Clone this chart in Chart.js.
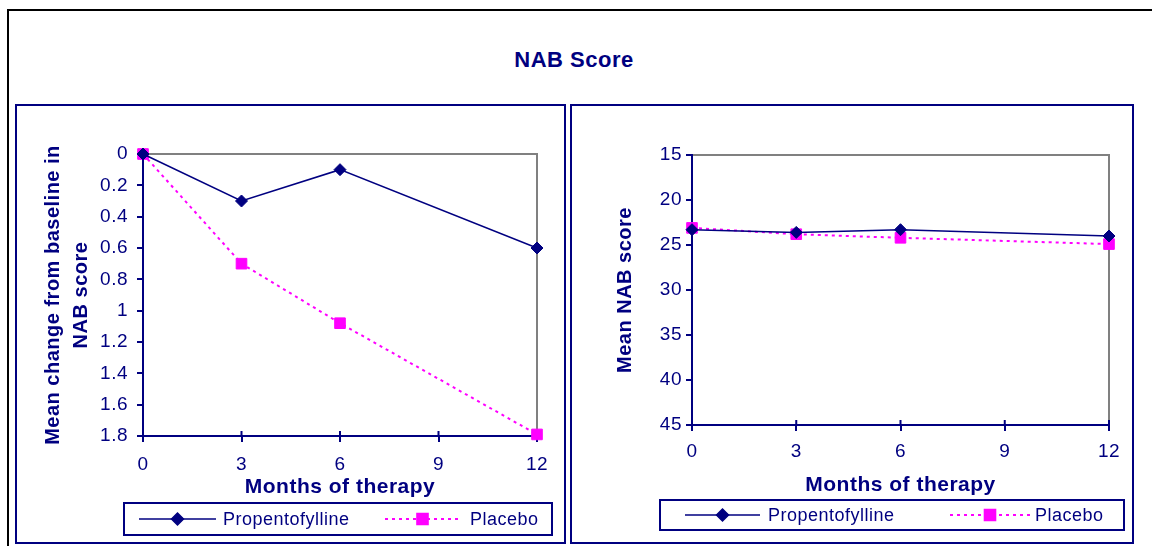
<!DOCTYPE html>
<html>
<head>
<meta charset="utf-8">
<title>NAB Score</title>
<script src="https://cdn.jsdelivr.net/npm/chart.js@4/dist/chart.umd.min.js"></script>
<style>
  html, body { margin: 0; padding: 0; background: #fff; }
  body { width: 1152px; height: 546px; position: relative; overflow: hidden; font-family: "Liberation Sans", Arial, sans-serif; }
  .outer { position: absolute; left: 7px; top: 9px; width: 1200px; height: 600px; border-top: 2px solid #000; border-left: 2px solid #000; box-sizing: border-box; }
  .title { position: absolute; left: 7px; width: 1134px; top: 47px; text-align: center; font-weight: bold; font-size: 22px; line-height: 26px; color: #000080; letter-spacing: 0.5px; }
  .panel { position: absolute; border: 2px solid #000080; box-sizing: border-box; }
  canvas { position: absolute; }
</style>
</head>
<body>
<div class="outer"></div>
<div class="title">NAB Score</div>
<div class="panel" style="left:15px;top:104px;width:551px;height:440px;"></div>
<div class="panel" style="left:570px;top:104px;width:564px;height:440px;"></div>
<canvas id="changeChart" width="547" height="436" style="left:17px;top:106px;width:547px;height:436px;"></canvas>
<canvas id="scoreChart" width="560" height="436" style="left:572px;top:106px;width:560px;height:436px;"></canvas>
<script>
// Months of therapy at which NAB was assessed
const months = [0, 3, 6, 12];
const seriesNames = ['Propentofylline', 'Placebo'];

// Mean change from baseline in NAB score
const changePropentofylline = [0, 0.3, 0.1, 0.6];
const changePlacebo = [0, 0.7, 1.08, 1.79];

// Mean NAB score
const scorePropentofylline = [23.3, 23.6, 23.3, 24.0];
const scorePlacebo = [23.1, 23.8, 24.2, 24.9];

// Tick labels
const monthTicks = ['0', '3', '6', '9', '12'];
const changeTicks = ['0', '0.2', '0.4', '0.6', '0.8', '1', '1.2', '1.4', '1.6', '1.8'];
const scoreTicks = ['15', '20', '25', '30', '35', '40', '45'];

const NAVY = '#000080';
const MAGENTA = '#FF00FF';
const FONT = '"Liberation Sans", Arial, sans-serif';
const LETTER_SPACING = '0.5px';

// Slightly open letter spacing for all canvas text
const spacing = {
  id: 'spacing',
  beforeUpdate(chart) { chart.ctx.letterSpacing = LETTER_SPACING; },
  beforeDraw(chart) { chart.ctx.letterSpacing = LETTER_SPACING; }
};

// Grey top and right edges of the plot area
const plotFrame = {
  id: 'plotFrame',
  beforeDatasetsDraw(chart) {
    const { ctx, chartArea: a } = chart;
    ctx.save();
    ctx.strokeStyle = '#808080';
    ctx.lineWidth = 2;
    ctx.beginPath();
    ctx.moveTo(a.left + 1, a.top);
    ctx.lineTo(a.right, a.top);
    ctx.lineTo(a.right, a.bottom - 1);
    ctx.stroke();
    ctx.restore();
  }
};

// Short tick stubs above the x axis, so the month ticks cross it
const crossTicks = {
  id: 'crossTicks',
  beforeDatasetsDraw(chart) {
    const { ctx, scales: { x } } = chart;
    ctx.save();
    ctx.strokeStyle = NAVY;
    ctx.lineWidth = 2;
    ctx.beginPath();
    x.ticks.forEach(t => {
      const px = x.getPixelForValue(t.value);
      ctx.moveTo(px, x.top);
      ctx.lineTo(px, x.top - 5);
    });
    ctx.stroke();
    ctx.restore();
  }
};

// Boxed legend with line + marker samples
const boxLegend = {
  id: 'boxLegend',
  afterDraw(chart, args, opts) {
    const { ctx } = chart;
    const [bx, by, bw, bh] = opts.box;
    ctx.save();
    ctx.letterSpacing = LETTER_SPACING;
    ctx.strokeStyle = NAVY;
    ctx.lineWidth = 2;
    ctx.setLineDash([]);
    ctx.strokeRect(bx, by, bw, bh);
    const y = by + bh / 2;
    chart.data.datasets.forEach((ds, i) => {
      const it = opts.items[i];
      ctx.strokeStyle = ds.borderColor;
      ctx.lineWidth = ds.borderWidth;
      ctx.setLineDash(ds.borderDash || []);
      ctx.beginPath();
      ctx.moveTo(it.from, y);
      ctx.lineTo(it.to, y);
      ctx.stroke();
      ctx.setLineDash([]);
      ctx.fillStyle = ds.pointBackgroundColor;
      ctx.strokeStyle = ds.pointBorderColor;
      Chart.helpers.drawPoint(ctx, { pointStyle: ds.pointStyle, radius: ds.pointRadius, rotation: 0, borderWidth: 1 }, (it.from + it.to) / 2, y);
      ctx.fillStyle = NAVY;
      ctx.font = '18px ' + FONT;
      ctx.textBaseline = 'middle';
      ctx.textAlign = 'left';
      ctx.fillText(ds.label, it.text, y + 1);
    });
    ctx.restore();
  }
};

function datasets(a, b) {
  return [
    {
      label: seriesNames[0],
      data: months.map((m, i) => ({ x: m, y: a[i] })),
      borderColor: NAVY, borderWidth: 1.5, clip: false,
      pointStyle: 'rectRot', pointRadius: 6,
      pointBackgroundColor: NAVY, pointBorderColor: NAVY, pointBorderWidth: 1
    },
    {
      label: seriesNames[1],
      data: months.map((m, i) => ({ x: m, y: b[i] })),
      borderColor: MAGENTA, borderWidth: 2, borderDash: [3, 4], clip: false,
      pointStyle: 'rect', pointRadius: 7.5,
      pointBackgroundColor: MAGENTA, pointBorderColor: MAGENTA, pointBorderWidth: 1
    }
  ];
}

function makeChart(id, cfg) {
  return new Chart(document.getElementById(id), {
    type: 'line',
    data: { datasets: datasets(cfg.a, cfg.b) },
    options: {
      responsive: false,
      animation: false,
      devicePixelRatio: 1,
      layout: { padding: cfg.padding },
      plugins: {
        legend: { display: false },
        tooltip: { enabled: false },
        boxLegend: cfg.legend
      },
      scales: {
        x: {
          type: 'linear', min: 0, max: 12,
          afterFit(s) { s.height = cfg.xHeight; },
          afterBuildTicks(s) { s.ticks = monthTicks.map(Number).map(v => ({ value: v })); },
          ticks: {
            color: NAVY, font: { family: FONT, size: 19 }, padding: cfg.xTickPad,
            maxRotation: 0, autoSkip: false,
            callback: (v, i) => monthTicks[i]
          },
          grid: { drawOnChartArea: false, drawTicks: true, tickLength: 6, color: NAVY, lineWidth: 2 },
          border: { display: true, color: NAVY, width: 2 },
          title: {
            display: true, text: 'Months of therapy', color: NAVY,
            font: { family: FONT, size: 21, weight: 'bold', lineHeight: 1.2 },
            padding: { top: 0, bottom: 0 }
          }
        },
        y: {
          type: 'linear', reverse: true, min: cfg.yMin, max: cfg.yMax,
          afterFit(s) { s.width = cfg.yWidth; },
          afterBuildTicks(s) { s.ticks = cfg.yTicks.map(Number).map(v => ({ value: v })); },
          ticks: {
            color: NAVY, font: { family: FONT, size: 19 }, padding: cfg.yTickPad,
            autoSkip: false,
            callback: (v, i) => cfg.yTicks[i]
          },
          grid: { drawOnChartArea: false, drawTicks: true, tickLength: 6, color: NAVY, lineWidth: 2 },
          border: { display: true, color: NAVY, width: 2 },
          title: {
            display: true, text: cfg.yTitle, color: NAVY,
            font: { family: FONT, size: 20, weight: 'bold', lineHeight: cfg.yTitleLH },
            padding: { top: cfg.yTitlePad, bottom: 0 }
          }
        }
      }
    },
    plugins: [spacing, plotFrame, crossTicks, boxLegend]
  });
}

makeChart('changeChart', {
  a: changePropentofylline, b: changePlacebo,
  yMin: 0, yMax: 1.8, yTicks: changeTicks,
  yTitle: ['Mean change from baseline in', 'NAB score'],
  yTitleLH: 1.4, yTitlePad: 22,
  padding: { left: 0, top: 48, right: 27, bottom: 42 },
  yWidth: 126, xHeight: 64, xTickPad: 11, yTickPad: 9,
  legend: {
    box: [107, 397, 428, 32],
    items: [{ from: 122, to: 199, text: 206 }, { from: 368, to: 443, text: 453 }]
  }
});

makeChart('scoreChart', {
  a: scorePropentofylline, b: scorePlacebo,
  yMin: 15, yMax: 45, yTicks: scoreTicks,
  yTitle: 'Mean NAB score',
  yTitleLH: 1.2, yTitlePad: 41,
  padding: { left: 0, top: 49, right: 23, bottom: 44 },
  yWidth: 120, xHeight: 73, xTickPad: 9, yTickPad: 4,
  legend: {
    box: [88, 394, 464, 30],
    items: [{ from: 113, to: 188, text: 196 }, { from: 378, to: 458, text: 463 }]
  }
});
</script>
</body>
</html>
